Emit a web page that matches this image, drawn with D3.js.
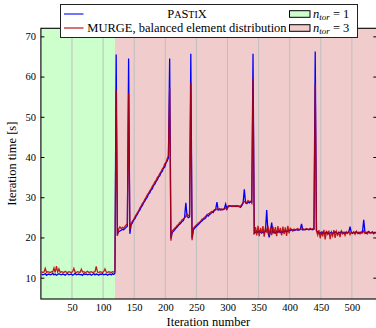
<!DOCTYPE html>
<html><head><meta charset="utf-8">
<script src="https://cdn.jsdelivr.net/npm/d3@7"></script>
<style>
html,body{margin:0;padding:0;background:#fff;}
svg{display:block;font-family:"Liberation Serif","Times New Roman",serif;}
</style></head>
<body>
<svg id="chart" width="376" height="328"></svg>
<script>
// ---- data ----
const iterStart = 1, iterStep = 2;
const pastixTime = [
10.9,10.7,10.8,11.0,10.6,10.8,10.9,10.7,10.8,11.1,
10.7,10.9,10.6,10.8,11.0,10.8,10.7,10.9,10.8,10.6,
10.9,11.0,10.7,10.8,10.9,10.6,10.8,11.1,10.7,10.8,
10.9,10.7,10.8,10.6,11.0,10.8,10.9,10.7,10.8,10.9,
10.6,10.8,11.0,10.7,10.9,10.8,10.6,10.9,10.8,11.0,
10.7,10.8,10.9,10.6,10.8,10.9,10.7,11.0,10.8,11.1,
65.5,
20.9,21.4,21.6,21.8,22.0,21.9,22.2,22.5,22.8,
64.5,
20.9,
23.1,23.6,24.3,24.6,25.3,25.7,26.4,26.8,27.5,27.9,28.6,29.0,29.6,30.0,30.8,31.1,31.8,32.1,32.9,33.2,33.9,34.3,35.0,35.3,36.1,36.4,37.2,37.5,38.5,39.0,39.8,
64.5,
19.8,21.2,21.5,21.9,22.3,22.6,23.0,23.3,23.6,24.0,24.2,25.0,28.6,25.2,24.9,25.1,
65.7,
19.8,21.8,22.3,22.6,22.9,23.2,23.5,23.9,24.1,24.5,24.6,24.9,25.6,25.3,25.7,25.9,26.4,26.2,26.7,27.0,28.8,26.8,26.9,27.0,26.9,27.0,27.2,28.3,27.1,27.8,27.9,27.8,27.7,27.9,27.8,27.7,27.9,27.8,27.8,27.5,27.9,28.5,32.0,28.6,28.4,28.8,28.6,28.9,28.8,
65.7,
21.0,21.3,21.5,21.2,21.6,21.3,21.1,21.4,21.2,21.6,26.8,21.3,20.0,21.5,23.7,21.2,21.4,21.1,21.5,21.3,21.6,21.2,21.4,21.3,21.5,21.7,21.4,21.6,21.8,21.7,21.9,21.8,21.7,21.9,22.0,21.8,21.9,22.0,23.4,21.9,22.0,21.9,22.1,22.0,21.9,22.1,22.0,21.9,22.1,
66.2,
21.8,21.3,21.0,21.2,20.9,21.3,21.1,21.0,21.4,21.2,20.9,21.1,21.3,21.0,21.2,21.4,21.1,21.0,21.3,21.1,21.5,21.2,21.0,21.3,21.1,21.2,21.4,22.7,21.2,21.0,21.3,21.1,21.5,21.2,21.0,21.3,21.1,21.4,24.4,21.2,21.0,21.3,21.5,21.1,21.2,21.4,21.0,21.3,21.2
];
const murgeTime = [
11.5,11.3,11.4,12.3,11.3,11.5,11.4,11.3,11.5,11.4,
12.4,11.3,12.9,11.4,12.2,11.3,11.5,11.4,11.3,11.6,
11.4,11.3,11.5,11.4,11.3,11.5,12.3,11.4,11.3,11.5,
11.4,11.3,12.1,11.4,11.5,11.3,11.4,11.6,11.3,11.4,
11.5,11.3,11.4,11.5,12.8,11.4,11.3,11.5,11.4,11.3,
11.5,12.2,11.4,11.3,11.5,11.4,11.3,11.5,11.4,11.6,
56.8,
20.4,22.1,22.6,22.2,22.5,22.3,22.7,23.1,23.4,
55.9,
21.8,
23.5,24.0,24.4,25.1,25.6,26.1,26.6,27.3,27.8,28.4,28.8,29.5,30.0,30.6,31.0,31.6,32.0,32.7,33.1,33.8,34.1,34.9,35.2,35.9,36.3,37.0,37.4,38.3,38.6,39.6,40.3,
57.2,
19.2,21.6,21.9,22.3,22.5,23.0,23.2,23.7,23.9,24.4,24.6,24.8,25.3,25.8,25.4,25.6,
58.5,
19.3,22.2,22.6,23.0,23.2,23.6,23.8,24.1,24.5,24.7,25.0,25.3,25.4,25.9,26.0,26.3,26.2,26.6,26.9,26.8,27.1,27.0,27.2,26.8,27.1,26.9,27.0,27.3,27.0,27.6,27.7,27.9,27.8,27.7,27.8,27.9,27.7,27.8,27.6,27.8,28.2,28.7,28.9,28.9,28.6,29.2,28.9,29.0,28.5,
59.6,
20.8,22.6,20.5,22.9,20.3,22.4,21.0,22.8,20.2,22.5,21.2,22.9,20.4,22.3,20.6,22.7,20.9,22.6,20.3,22.8,21.1,22.4,20.5,22.7,20.8,22.5,20.4,22.9,21.0,22.3,22.0,21.6,22.1,21.8,22.0,22.2,21.9,22.1,22.0,22.2,21.9,22.1,22.2,22.0,22.1,22.3,22.0,22.2,22.1,
58.0,
21.6,20.6,21.8,19.8,21.5,20.3,21.9,19.5,21.4,20.8,21.7,19.6,21.3,20.4,21.8,19.9,21.5,20.6,21.2,20.1,21.6,20.9,21.3,20.5,21.4,21.0,21.5,20.7,21.3,21.1,21.4,20.8,21.5,21.0,21.3,20.9,21.4,21.1,21.6,21.0,21.3,20.9,21.4,21.2,21.1,21.3,20.9,21.2,21.1
];
const regionStart = [0, 119];
const regionEnd = [119, 540];
const regionLabel = ["1", "3"];
const xTicks = [50,100,150,200,250,300,350,400,450,500];
const yTicks = [10,20,30,40,50,60,70];

// ---- chart ----
const svg = d3.select("#chart");
const L = 40.9, R = 376.8, T = 28.3, B = 299;
const x = d3.scaleLinear().domain([0, 540]).range([L, R]);
const y = d3.scaleLinear().domain([4.7, 72]).range([B, T]);
const regionColor = ["#ccffcc", "#f0cccc"];
const blue = "#0000ff", red = "#b80000";

svg.append("defs").append("clipPath").attr("id","clip")
  .append("rect").attr("x",L).attr("y",T).attr("width",R-L).attr("height",B-T);

const plot = svg.append("g").attr("clip-path","url(#clip)");
plot.selectAll("rect.region").data(regionStart).join("rect")
  .attr("class","region")
  .attr("x",(d)=>x(d)).attr("y",T)
  .attr("width",(d,i)=>x(regionEnd[i])-x(d)).attr("height",B-T)
  .attr("fill",(d,i)=>regionColor[i]);

plot.selectAll("line.grid").data(xTicks).join("line")
  .attr("class","grid")
  .attr("x1",d=>x(d)).attr("x2",d=>x(d)).attr("y1",T).attr("y2",B)
  .attr("stroke","#bfbfbf").attr("stroke-width",1);

const line = d3.line().x((d,i)=>x(iterStart+i*iterStep)).y(d=>y(d));
plot.append("path").datum(pastixTime).attr("d",line)
  .attr("fill","none").attr("stroke",blue).attr("stroke-width",1.3);
plot.append("path").datum(murgeTime).attr("d",line)
  .attr("fill","none").attr("stroke",red).attr("stroke-width",1.3).attr("stroke-opacity",0.88);

// axes
const yAxisL = d3.axisLeft(y).tickValues(yTicks).tickSize(-3.5).tickPadding(5);
const gyl = svg.append("g").attr("transform",`translate(${L},0)`).call(yAxisL);
const yAxisR = d3.axisRight(y).tickValues(yTicks).tickSize(-3.5).tickFormat("");
const gyr = svg.append("g").attr("transform",`translate(${R},0)`).call(yAxisR);
const xAxis = d3.axisBottom(x).tickValues(xTicks).tickSize(0).tickPadding(4.5);
const gx = svg.append("g").attr("transform",`translate(0,${B})`).call(xAxis);
[gyl,gyr,gx].forEach(g=>{
  g.select(".domain").remove();
  g.selectAll("text").attr("font-family","Liberation Serif, serif").attr("font-size",10.5).attr("fill","#000");
  g.selectAll("line").attr("stroke","#000");
});
svg.append("rect").attr("x",L).attr("y",T).attr("width",R-L).attr("height",B-T)
  .attr("fill","none").attr("stroke","#000").attr("stroke-width",1.1);

svg.append("text").attr("x",(L+R)/2-0.5).attr("y",326).attr("text-anchor","middle")
  .attr("font-size",12.5).text("Iteration number");
svg.append("text").attr("transform",`translate(16,${(T+B)/2}) rotate(-90)`)
  .attr("text-anchor","middle").attr("font-size",12.5).text("Iteration time [s]");

// legend
const lg = svg.append("g");
lg.append("rect").attr("x",60.5).attr("y",4.5).attr("width",297).attr("height",33)
  .attr("fill","#fff").attr("stroke","#222").attr("stroke-width",1);
const rows = [14, 28];
[blue, red].forEach((c,i)=>{
  lg.append("line").attr("x1",64).attr("x2",83.5).attr("y1",rows[i]).attr("y2",rows[i])
    .attr("stroke",c).attr("stroke-width",1.1);
});
const t1 = lg.append("text").attr("x",187).attr("y",rows[0]+4.2).attr("text-anchor","middle").attr("font-size",12.5);
[["P",12.5],["A",10],["S",12.5],["TI",10],["X",12.5]].forEach(([s,f])=>t1.append("tspan").attr("font-size",f).text(s));
lg.append("text").attr("x",187).attr("y",rows[1]+4.2).attr("text-anchor","middle").attr("font-size",12.5)
  .text("MURGE, balanced element distribution");
regionLabel.forEach((lab,i)=>{
  lg.append("rect").attr("x",289.5).attr("y",rows[i]-3.3).attr("width",20.5).attr("height",6.6)
    .attr("fill",regionColor[i]).attr("stroke","#000").attr("stroke-width",1);
  const t = lg.append("text").attr("x",313).attr("y",rows[i]+3.5).attr("font-size",12.5);
  t.append("tspan").attr("font-style","italic").text("n");
  t.append("tspan").attr("font-style","italic").attr("font-size",9).attr("dy",2.2).text("tor");
  t.append("tspan").attr("dy",-2.2).text(" = " + lab);
});
</script>
</body></html>
